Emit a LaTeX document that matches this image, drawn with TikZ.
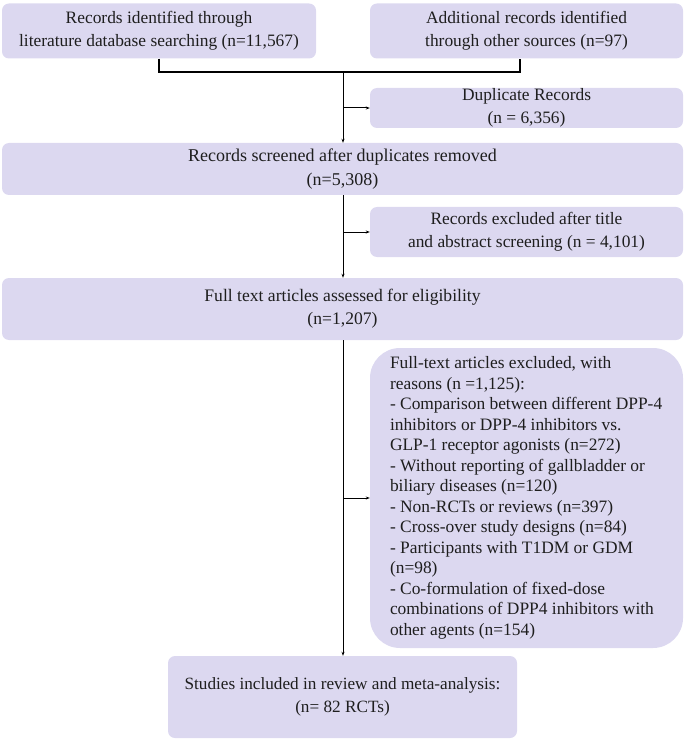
\documentclass[tikz,border=0pt]{standalone}
\usepackage{fontspec}
\setmainfont{Liberation Serif}
\usetikzlibrary{arrows.meta}
\definecolor{boxfill}{RGB}{220,216,240}
\definecolor{txt}{RGB}{30,30,30}
\begin{document}
\begin{tikzpicture}[x=1pt,y=-1pt,
  box/.style={fill=boxfill, draw=none, rounded corners=7pt, align=center, inner sep=0pt,
    text=txt, font=\fontsize{17.4}{23}\selectfont},
  conn/.style={draw=black, line width=1pt},
  arr/.style={conn, -{Stealth[length=4pt,width=3pt]}}]
\useasboundingbox (0,0) rectangle (685,743);
\node[box, minimum width=314pt, minimum height=55pt] (b1) at (159,31)
  {Records identified through\\literature database searching (n=11,567)};
\node[box, minimum width=313pt, minimum height=55pt] (b2) at (526.5,31)
  {Additional records identified\\through other sources (n=97)};
\node[box, minimum width=313pt, minimum height=40pt] (dup) at (526.5,108)
  {Duplicate Records\\(n = 6,356)};
\node[box, minimum width=681pt, minimum height=52pt, font=\fontsize{18}{24}\selectfont] (scr) at (342.5,169)
  {Records screened after duplicates removed\\(n=5,308)};
\node[box, minimum width=313pt, minimum height=50pt] (exc) at (526.5,232)
  {Records excluded after title\\and abstract screening (n = 4,101)};
\node[box, minimum width=681pt, minimum height=62pt, font=\fontsize{17.6}{23}\selectfont] (full) at (342.5,309)
  {Full text articles assessed for eligibility\\(n=1,207)};
\node[box, rounded corners=30pt, minimum width=313pt, minimum height=300pt,
  font=\fontsize{17.4}{20.5}\selectfont] (big) at (526.5,498)
  {\makebox[273pt][l]{\begin{tabular}{@{}l@{}}
   Full-text articles excluded, with\\
   reasons (n =1,125):\\
   - Comparison between different DPP-4\\
   inhibitors or DPP-4 inhibitors vs.\\
   GLP-1 receptor agonists (n=272)\\
   - Without reporting of gallbladder or\\
   biliary diseases (n=120)\\
   - Non-RCTs or reviews (n=397)\\
   - Cross-over study designs (n=84)\\
   - Participants with T1DM or GDM\\
   (n=98)\\
   - Co-formulation of fixed-dose\\
   combinations of DPP4 inhibitors with\\
   other agents (n=154)
   \end{tabular}}};
\node[box, minimum width=349pt, minimum height=82pt, font=\fontsize{17.2}{23}\selectfont] (fin) at (342.5,697)
  {Studies included in review and meta-analysis:\\(n= 82 RCTs)};
\coordinate (jl) at (159,72);
\coordinate (jr) at (520,72);
\coordinate (jm) at (343,72);
\draw[conn, line width=1.6pt] (b1.south) -- (jl) -- (jr) -- (b2.south -| jr);
\draw[arr] (jm) -- (scr.north -| jm);
\draw[arr] (jm |- dup.west) -- (dup.west);
\draw[arr] (scr.south -| jm) -- (full.north -| jm);
\draw[arr] (jm |- exc.west) -- (exc.west);
\draw[arr] (full.south -| jm) -- (fin.north -| jm);
\draw[arr] (jm |- big.west) -- (big.west);
\end{tikzpicture}
\end{document}
